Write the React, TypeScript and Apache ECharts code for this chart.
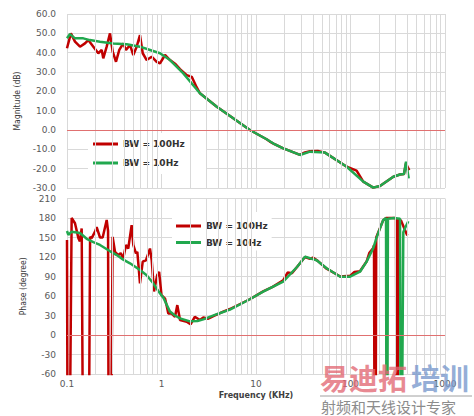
import React, { useEffect, useRef } from "react";
import * as echarts from "echarts";

// ---- Data (frequency in kHz) ----
const magFreq100 = [0.1,0.11,0.1215,0.1373,0.155,0.168,0.19,0.2144,0.233,0.242,0.263,0.285,0.3045,0.33,0.3576,0.394,0.421,0.464,0.503,0.546,0.592,0.633,0.697,0.788,0.889,0.964,1.089,1.23,1.39,1.57,1.85,2.09,2.36,2.55,3.85,5.69,8.61,12.95,14,15.3,19.2,29.2,33,37.3,45,53.7,91.2,116,136.5,174,205,284,334,368,387,400,419];
const mag100 = [42.3,50,45.7,43.1,44.8,46.5,43.1,39.7,41.4,37.1,43.1,50,40.5,35.3,41.4,44.8,41.4,44,38.8,43.1,49.1,39.7,36.2,37.9,35.3,34.5,38.8,36.2,34.3,31.5,28.4,27.5,22,19,12,6.2,0,-4.8,-6,-7,-9.4,-12.9,-11.6,-11,-10.8,-11.7,-19,-21,-26.7,-29.8,-29,-24.2,-23,-22.8,-17,-19,-20.7];

const magFreq10 = [0.1,0.1076,0.1215,0.1488,0.1751,0.2234,0.309,0.4285,0.5924,0.7557,0.964,1.23,1.702,2.55,3.846,5.69,8.61,12.95,15.3,19.2,29.2,37.3,53.7,91.2,136.5,174,205,284,334,368,387,413];
const mag10 = [47.5,49.6,47.4,47.4,46.5,45.7,44.8,44.3,43.1,41.4,39.7,36.2,29.3,19,12,6.2,0,-4.8,-7,-9.4,-12.9,-11.2,-11.7,-19,-26.7,-29.8,-29,-24.2,-23,-22.8,-16.4,-25];

const phFreq100 = [0.1,0.1015,0.1065,0.112,0.1215,0.132,0.137,0.143,0.148,0.17,0.1755,0.1825,0.198,0.206,0.2234,0.2385,0.263,0.272,0.276,0.292,0.304,0.322,0.349,0.37,0.394,0.421,0.445,0.483,0.503,0.536,0.555,0.592,0.633,0.685,0.755,0.788,0.833,0.9,0.944,1.0,1.09,1.13,1.18,1.28,1.39,1.47,1.57,1.85,2.03,2.25,2.55,2.77,3.13,3.54,4.5,5.3,8.6,11.9,15,19.4,21.6,24,27.3,33,37.3,40,45,55.9,77.9,98.9,110,126,148,158,174,177.3,179.9,184.4,187.1,220.8,237.6,303,307.5,315.1,319.8,342.2,368.3,399.2];
const ph100 = [146,-200,-200,180,172,149,144,164,-200,-200,151,149,159,166,150,150,177,160,-200,-200,151,128,123,126,118,138.5,133,169,138.5,125.6,128,79.5,113,115,133,115,67,92,97,61.5,56,46,33,33,28,46,23,20.5,16.4,28,23,27,25,29,36,40,55,67,74,84,96,95,105,120,117,119,114,102,90,91,97,98,113,126,134,138,-200,-200,150,176,180,180,-200,-200,178,176,165,153];

const phFreq10 = [0.1,0.1033,0.112,0.1373,0.1616,0.19,0.2234,0.3,0.336,0.394,0.464,0.592,0.697,0.818,0.92,1.05,1.23,1.39,1.57,2.0,2.4,2.77,3.85,5.3,8.6,11.9,19.4,27.3,33,37.3,43.8,55.9,77.9,98.9,126,148,174,188,205,222,237.6,240.5,245.2,248.8,287.9,334.1,339.9,348.3,362.1,381.9,408.9];
const ph10 = [160,154,159,157,148,143,138.5,127,123,116,110.3,100,92,79.5,68,57,36,30,25.6,21,21.5,24,32,39,55,66.6,82,105,120.5,118,115,102.6,89.7,89.7,97.4,112.8,133.4,149,164,177,180,-200,-200,179,180,179,-200,-200,158,166,175];

const seriesNames = ["BW = 100Hz", "BW = 10Hz"];
const xTickLabels = ["0.1", "1", "10", "100", "1000"];
const decades = [0.1, 1, 10, 100];
const minorSteps = [2, 3, 4, 5, 6, 7, 8, 9];

const RED = "#c00000";
const GREEN = "#21a84e";
const GRIDC = "#d9d9d9";
const ZEROC = "#e07070";

const zip = (xs: number[], ys: number[]) => xs.map((x, i) => [x, ys[i]]);

export default function App() {
  const ref = useRef<HTMLDivElement>(null);
  useEffect(() => {
    if (!ref.current) return;
    const chart = echarts.init(ref.current, null, { renderer: "svg" });
    const minorLines = decades.flatMap((d) => minorSteps.map((m) => ({ xAxis: +(d * m).toPrecision(3) })));
    const gridHelper = (idx: number) => ({
      type: "line",
      name: "_grid" + idx,
      xAxisIndex: idx,
      yAxisIndex: idx,
      data: [],
      z: 1,
      silent: true,
      markLine: {
        silent: true,
        symbol: ["none", "none"],
        label: { show: false },
        animation: false,
        lineStyle: { color: GRIDC, width: 1, type: "solid" },
        data: [...minorLines, { yAxis: 0, lineStyle: { color: ZEROC, width: 1, type: "solid" } }],
      },
    });
    const tickFont = { color: "#595959", fontSize: 9, fontFamily: "DejaVu Sans" };
    const nameFont = { color: "#333", fontSize: 8.5, fontFamily: "'Liberation Sans Narrow', 'DejaVu Sans Condensed', sans-serif" };
    const legendBase = {
      data: seriesNames,
      orient: "vertical",
      itemWidth: 25,
      itemHeight: 3,
      icon: "rect",
      backgroundColor: "#ffffff",
      selectedMode: false,
      textStyle: { fontFamily: "DejaVu Sans", fontWeight: "bold", fontSize: 9, color: "#333", lineHeight: 12 },
    };
    const lineSeries = (name: string, idx: number, data: number[][], color: string, z: number) => ({
      type: "line",
      name,
      xAxisIndex: idx,
      yAxisIndex: idx,
      data,
      showSymbol: false,
      symbol: "none",
      z,
      lineStyle: { color, width: 2.5 },
      itemStyle: { color },
    });
    chart.setOption({
      animation: false,
      backgroundColor: "#ffffff",
      grid: [
        { left: 67, top: 14, width: 378, height: 174 },
        { left: 67, top: 198.5, width: 378, height: 175.5 },
      ],
      xAxis: [0, 1].map((i) => ({
        type: "log",
        logBase: 10,
        gridIndex: i,
        min: 0.1,
        max: 1000,
        axisLine: { show: false },
        axisTick: { show: false },
        splitLine: { show: true, lineStyle: { color: GRIDC, width: 1 } },
        axisLabel: i === 1
          ? { show: true, margin: 5, ...tickFont, formatter: (v: number) => xTickLabels[Math.round(Math.log10(v)) + 1] }
          : { show: false },
        ...(i === 1
          ? {
              name: "Frequency (KHz)",
              nameLocation: "middle",
              nameGap: 17,
              nameTextStyle: { color: "#404040", fontSize: 8, fontWeight: "bold", fontFamily: "DejaVu Sans" },
            }
          : {}),
      })),
      yAxis: [
        {
          type: "value",
          gridIndex: 0,
          min: -30,
          max: 60,
          interval: 10,
          axisLine: { show: false },
          axisTick: { show: false },
          splitLine: { show: true, lineStyle: { color: GRIDC, width: 1 } },
          axisLabel: { margin: 11, ...tickFont, formatter: (v: number) => v.toFixed(1) },
          name: "Magnitude (dB)",
          nameLocation: "middle",
          nameRotate: 90,
          nameGap: 42,
          nameTextStyle: nameFont,
        },
        {
          type: "value",
          gridIndex: 1,
          min: -60,
          max: 210,
          interval: 30,
          axisLine: { show: false },
          axisTick: { show: false },
          splitLine: { show: true, lineStyle: { color: GRIDC, width: 1 } },
          axisLabel: { margin: 11, ...tickFont },
          name: "Phase (degree)",
          nameLocation: "middle",
          nameRotate: 90,
          nameGap: 36,
          nameTextStyle: nameFont,
        },
      ],
      legend: [
        { ...legendBase, left: 88, top: 133, padding: [5, 22, 5, 5], itemGap: 7 },
        { ...legendBase, left: 172, top: 212, padding: [8, 4, 2, 4], itemGap: 4.5 },
      ],
      series: [
        gridHelper(0),
        gridHelper(1),
        lineSeries(seriesNames[0], 0, zip(magFreq100, mag100), RED, 2),
        lineSeries(seriesNames[1], 0, zip(magFreq10, mag10), GREEN, 3),
        lineSeries(seriesNames[0], 1, zip(phFreq100, ph100), RED, 2),
        lineSeries(seriesNames[1], 1, zip(phFreq10, ph10), GREEN, 3),
      ],
      graphic: [
        {
          type: "text",
          left: 320,
          top: 362,
          z: 100,
          style: { text: "易迪拓", fill: "rgba(226,104,116,0.78)", font: "bold 29px 'Noto Sans CJK SC'" },
        },
        {
          type: "text",
          left: 411,
          top: 362,
          z: 100,
          style: { text: "培训", fill: "rgba(120,152,204,0.78)", font: "bold 29px 'Noto Sans CJK SC'" },
        },
        {
          type: "line",
          z: 100,
          shape: { x1: 320, y1: 396, x2: 472, y2: 396 },
          style: { stroke: "#a0a0a0", lineWidth: 1 },
        },
        {
          type: "text",
          left: 321,
          top: 399,
          z: 100,
          style: { text: "射频和天线设计专家", fill: "#8c8c8c", font: "15px 'Noto Sans CJK SC'" },
        },
      ],
    });
    return () => chart.dispose();
  }, []);
  return <div ref={ref} style={{ position: "absolute", left: 0, top: 0, width: 474, height: 416 }} />;
}
